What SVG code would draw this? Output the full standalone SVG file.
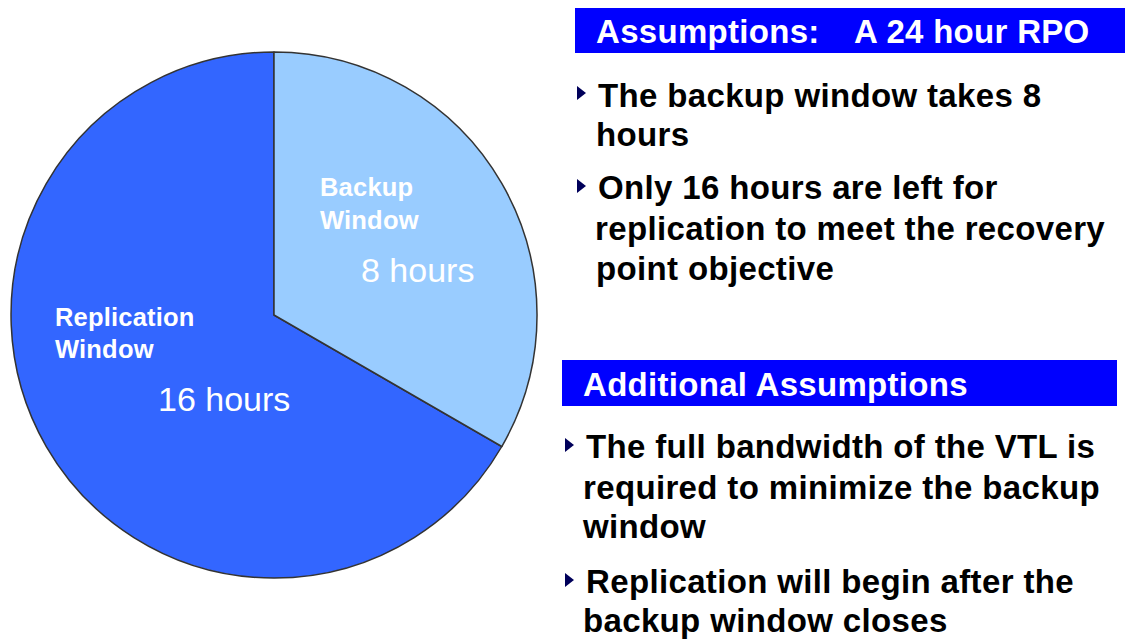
<svg xmlns="http://www.w3.org/2000/svg" width="1125" height="640" viewBox="0 0 1125 640">
  <style>
    .bar { fill: #0000FF; }
    .bar-text { font-family: "Liberation Sans", Arial, sans-serif; font-weight: bold; font-size: 33px; fill: #FFFFFF; letter-spacing: 0.3px; }
    .body { font-family: "Liberation Sans", Arial, sans-serif; font-weight: bold; font-size: 33px; fill: #000000; letter-spacing: 0.35px; }
    .bullet { fill: #00005A; }
    .slice { stroke: #333333; stroke-width: 1.5; stroke-linejoin: round; }
    .pie-label { font-family: "Liberation Sans", Arial, sans-serif; font-weight: bold; font-size: 25.5px; fill: #FFFFFF; letter-spacing: 0.2px; }
    .pie-value { font-family: "Liberation Sans", Arial, sans-serif; font-size: 34px; fill: #FFFFFF; }
  </style>
  <defs>
    <polygon id="tri" points="0,0 9,7 0,14"/>
  </defs>
  <rect width="1125" height="640" fill="#FFFFFF"/>

  <!-- Pie chart: 24 hour day split into backup and replication windows -->
  <g id="pie">
    <g id="replication-slice">
      <path class="slice" fill="#3366FF" d="M274,315 L501.8,446.5 A263,263 0 1,1 274,52 Z"/>
      <text class="pie-label" x="55" y="326">Replication</text>
      <text class="pie-label" x="55" y="358">Window</text>
      <text class="pie-value" x="158" y="411">16 hours</text>
    </g>
    <g id="backup-slice">
      <path class="slice" fill="#99CCFF" d="M274,315 L274,52 A263,263 0 0,1 501.8,446.5 Z"/>
      <text class="pie-label" x="320" y="196">Backup</text>
      <text class="pie-label" x="320" y="229">Window</text>
      <text class="pie-value" x="361" y="282">8 hours</text>
    </g>
  </g>

  <!-- First assumptions block -->
  <g id="assumptions">
    <rect class="bar" x="575" y="8" width="550" height="45"/>
    <text class="bar-text" y="43"><tspan x="596">Assumptions:</tspan><tspan x="854">A 24 hour RPO</tspan></text>
    <use href="#tri" class="bullet" x="577" y="86"/>
    <text class="body" x="598" y="107">The backup window takes 8</text>
    <text class="body" x="596" y="146">hours</text>
    <use href="#tri" class="bullet" x="577" y="179"/>
    <text class="body" x="598" y="199">Only 16 hours are left for</text>
    <text class="body" x="595" y="240">replication to meet the recovery</text>
    <text class="body" x="596" y="280">point objective</text>
  </g>

  <!-- Additional assumptions block -->
  <g id="additional-assumptions">
    <rect class="bar" x="562" y="360" width="555" height="46"/>
    <text class="bar-text" x="583" y="396">Additional Assumptions</text>
    <use href="#tri" class="bullet" x="565" y="438"/>
    <text class="body" x="586" y="458">The full bandwidth of the VTL is</text>
    <text class="body" x="583" y="499">required to minimize the backup</text>
    <text class="body" x="583" y="538">window</text>
    <use href="#tri" class="bullet" x="565" y="573"/>
    <text class="body" x="586" y="593">Replication will begin after the</text>
    <text class="body" x="583" y="632">backup window closes</text>
  </g>
</svg>
